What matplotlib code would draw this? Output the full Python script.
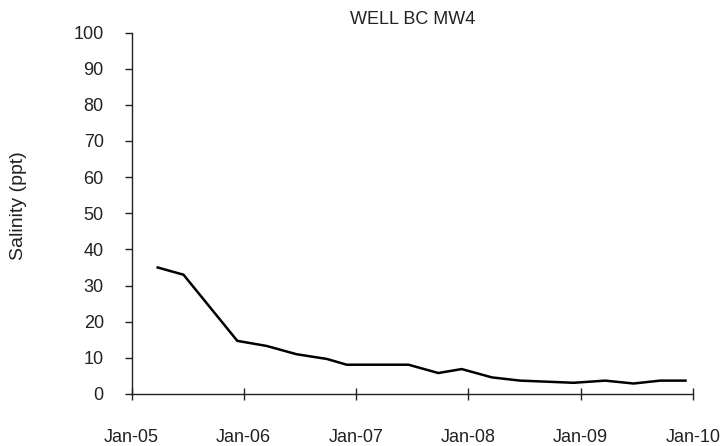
import numpy as np
import pandas as pd
import matplotlib
matplotlib.use('Agg')
import matplotlib.pyplot as plt
import matplotlib.dates as mdates

### data (sample dates and salinity in ppt)
dates = ['2005-03-27', '2005-06-19', '2005-12-11', '2006-03-16', '2006-06-22',
         '2006-09-28', '2006-12-02', '2007-03-15', '2007-06-21', '2007-09-26',
         '2007-12-11', '2008-03-18', '2008-06-18', '2008-09-15', '2008-12-09',
         '2009-03-22', '2009-06-22', '2009-09-17', '2009-12-08']
salinity = [35, 33, 14.7, 13.3, 11.0,
            9.7, 8.1, 8.1, 8.1, 5.8,
            6.9, 4.6, 3.7, 3.4, 3.1,
            3.7, 2.9, 3.7, 3.7]
title = 'WELL BC MW4'
ylabel = 'Salinity (ppt)'

plt.rcParams['font.family'] = ['Liberation Sans', 'DejaVu Sans']
txtcol = '#222222'

fig = plt.figure(figsize=(7.27, 4.46), dpi=100)
ax = fig.add_axes([0.181, 0.1166, 0.772, 0.8104])

ax.plot(pd.to_datetime(dates), salinity, color='black', lw=1.8, solid_joinstyle='round')

ax.set_xlim(pd.Timestamp('2005-01-01'), pd.Timestamp('2010-01-01'))
ax.set_ylim(0, 100)
ax.set_yticks(np.arange(0, 101, 10))
ax.xaxis.set_major_locator(mdates.YearLocator())
ax.xaxis.set_major_formatter(mdates.DateFormatter('%b-%y'))

for s in ['top', 'right']:
    ax.spines[s].set_visible(False)
for s in ['left', 'bottom']:
    ax.spines[s].set_linewidth(1.0)
    ax.spines[s].set_color(txtcol)

ax.tick_params(axis='y', direction='out', length=5, width=1, labelsize=13, pad=15,
               color=txtcol, labelcolor=txtcol)
ax.tick_params(axis='x', direction='inout', length=8.6, width=1, labelsize=13, pad=21,
               color=txtcol, labelcolor=txtcol)

ax.set_title(title, fontsize=13, pad=6, color=txtcol)
# y label sits well left of the tick labels
fig.text(19/727, 1-206/446, ylabel, rotation=90, fontsize=14, color=txtcol,
         ha='center', va='center')

fig.savefig('out.png', dpi=100)
